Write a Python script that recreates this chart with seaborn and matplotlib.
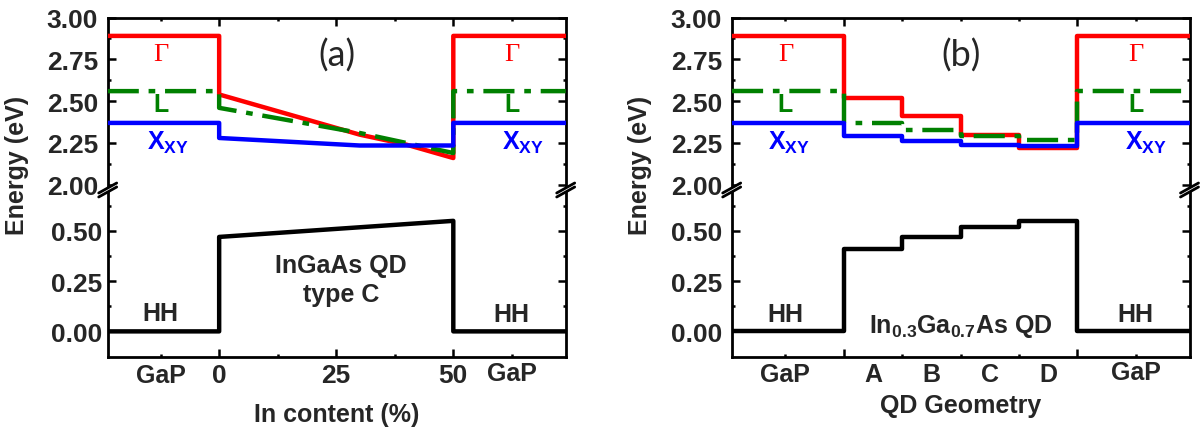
import numpy as np
import matplotlib
matplotlib.use('Agg')
import matplotlib.pyplot as plt
from matplotlib.lines import Line2D
from matplotlib.patches import Polygon
import seaborn as sns

# band edges of the GaP barrier (eV)
gap_gamma = 2.89
gap_L = 2.56
gap_X = 2.37
gap_HH = 0.0

# panel (a): InGaAs QD type C, energies vs In content
in_content = [0, 10, 20, 30, 40, 50]
gamma_a = [2.54, 2.46, 2.38, 2.30, 2.24, 2.16]
L_a = [2.46, 2.41, 2.36, 2.31, 2.25, 2.19]
X_a = [2.28, 2.265, 2.25, 2.235, 2.235, 2.235]
HH_a = [0.47, 0.486, 0.502, 0.518, 0.534, 0.55]

# panel (b): In0.3Ga0.7As QD, energies per geometry
geometries = ['A', 'B', 'C', 'D']
gamma_b = [2.52, 2.41, 2.30, 2.22]
L_b = [2.37, 2.33, 2.29, 2.27]
X_b = [2.29, 2.26, 2.24, 2.23]
HH_b = [0.41, 0.47, 0.52, 0.55]

sns.set_theme(style='ticks')
plt.rcParams['font.family'] = ['Liberation Sans', 'DejaVu Sans']
plt.rcParams['font.weight'] = 'bold'
plt.rcParams['font.size'] = 18
plt.rcParams['mathtext.fontset'] = 'custom'
plt.rcParams['mathtext.rm'] = 'Liberation Sans:bold'
plt.rcParams['mathtext.bf'] = 'Liberation Sans:bold'
plt.rcParams['mathtext.it'] = 'Liberation Sans:bold'

W, H = 1200, 431
fig = plt.figure(figsize=(12, 4.31), dpi=100)


def box(l, r, t, b):
    return [l / W, 1 - b / H, (r - l) / W, (b - t) / H]


def profile_a(vals, gap, xlim):
    x = [xlim[0], in_content[0]] + in_content + [in_content[-1], xlim[1]]
    y = [gap, gap] + list(vals) + [gap, gap]
    return x, y


def profile_b(vals, gap, xlim):
    x = [xlim[0]]
    y = [gap]
    for i, v in enumerate(vals):
        x += [i, i]
        y += [y[-1], v]
    x += [len(vals), len(vals), xlim[1]]
    y += [vals[-1], gap, gap]
    return x, y


def style_axes(up, lo, xmaj, xmin):
    for ax in (up, lo):
        for s in ax.spines.values():
            s.set_linewidth(2)
            s.set_color('black')
        ax.set_xticks(xmaj)
        ax.set_xticks(xmin, minor=True)
        ax.tick_params(which='both', direction='in', width=1.8, color='black',
                       left=True, right=True, labelsize=19, pad=7)
        ax.tick_params(which='major', length=5.5)
        ax.tick_params(which='minor', length=2.5)
        ax.set_xlabel('')
        ax.set_ylabel('')
    up.spines['bottom'].set_visible(False)
    lo.spines['top'].set_visible(False)
    up.tick_params(which='both', top=True, bottom=False, labelbottom=False)
    lo.tick_params(which='both', top=False, bottom=True, labelbottom=False)
    up.set_ylim(1.990, 3.0)
    up.set_yticks([2.00, 2.25, 2.50, 2.75, 3.00])
    up.set_yticklabels(['2.00', '2.25', '2.50', '2.75', '3.00'])
    up.set_yticks([2.125, 2.375, 2.625, 2.875], minor=True)
    lo.set_ylim(-0.129, 0.706)
    lo.set_yticks([0.0, 0.25, 0.5])
    lo.set_yticklabels(['0.00', '0.25', '0.50'])
    lo.set_yticks([0.125, 0.375, 0.625], minor=True)


def breaks(xpx):
    # double slash across the gap between the two halves of the axis
    y0 = 189
    poly = Polygon([[(xpx - 9) / W, 1 - (y0 + 5) / H], [(xpx + 9) / W, 1 - (y0 - 5) / H],
                    [(xpx + 9) / W, 1 - (y0 - 1) / H], [(xpx - 9) / W, 1 - (y0 + 9) / H]],
                   closed=True, transform=fig.transFigure, facecolor='white',
                   edgecolor='none', zorder=10)
    fig.add_artist(poly)
    for dy in (0, 4):
        fig.add_artist(Line2D([(xpx - 9) / W, (xpx + 9) / W],
                              [1 - (y0 + 5 + dy) / H, 1 - (y0 - 5 + dy) / H],
                              transform=fig.transFigure, color='black', lw=2, zorder=11))


dashdot = (0, (7, 2.2, 1.5, 2.2))
serif = ['Liberation Serif', 'DejaVu Serif']

# ---------------- panel (a) ----------------
xa = (-23.8, 74.0)
up_a = fig.add_axes(box(107.7, 565.7, 18.5, 187.5))
lo_a = fig.add_axes(box(107.7, 565.7, 190.5, 358.3))

x, y = profile_a(gamma_a, gap_gamma, xa)
sns.lineplot(x=x, y=y, sort=False, estimator=None, color='red', lw=3.2, ax=up_a, zorder=3)
x, y = profile_a(L_a, gap_L, xa)
sns.lineplot(x=x, y=y, sort=False, estimator=None, color='green', lw=3.2,
             linestyle=dashdot, ax=up_a, zorder=4)
x, y = profile_a(X_a, gap_X, xa)
sns.lineplot(x=x, y=y, sort=False, estimator=None, color='blue', lw=3.2, ax=up_a, zorder=5)
x, y = profile_a(HH_a, gap_HH, xa)
sns.lineplot(x=x, y=y, sort=False, estimator=None, color='black', lw=3.2, ax=lo_a)

for ax in (up_a, lo_a):
    ax.set_xlim(*xa)
style_axes(up_a, lo_a, [0, 25, 50], [-12.5, 12.5, 37.5, 62.5])
lo_a.tick_params(which='major', labelbottom=True, pad=4)
lo_a.set_xticklabels(['0', '25', '50'])

for xg, xx in ((-12.5, -10.9), (62.5, 64.8)):
    up_a.text(xg, 2.782, 'Γ', color='red', fontsize=19, fontweight='normal',
              family=serif, ha='center', va='center')
    up_a.text(xg, 2.483, 'L', color='green', fontsize=18, ha='center', va='center')
    up_a.text(xx, 2.259, r'$\mathbf{X_{XY}}$', color='blue', fontsize=18, ha='center', va='center')
up_a.text(25.1, 2.78, '(a)', fontsize=26, fontweight='normal', family=['Lato', 'DejaVu Sans'],
          ha='center', va='center')

lo_a.text(-12.5, 0.055, 'HH', fontsize=18, ha='center', va='baseline')
lo_a.text(62.5, 0.050, 'HH', fontsize=18, ha='center', va='baseline')
lo_a.text(26, 0.294, 'InGaAs QD', fontsize=18, ha='center', va='baseline')
lo_a.text(26, 0.150, 'type C', fontsize=18, ha='center', va='baseline')
tr = lo_a.get_xaxis_transform()
lo_a.text(-12.5, -(383 - 358.3) / 167.8, 'GaP', transform=tr, fontsize=18, ha='center', va='baseline')
lo_a.text(62.5, -(381 - 358.3) / 167.8, 'GaP', transform=tr, fontsize=18, ha='center', va='baseline')

# ---------------- panel (b) ----------------
xb = (-1.92, 5.92)
up_b = fig.add_axes(box(731.7, 1189.5, 18.5, 187.5))
lo_b = fig.add_axes(box(731.7, 1189.5, 190.5, 358.3))

x, y = profile_b(gamma_b, gap_gamma, xb)
sns.lineplot(x=x, y=y, sort=False, estimator=None, color='red', lw=3.2, ax=up_b, zorder=3)
x, y = profile_b(L_b, gap_L, xb)
sns.lineplot(x=x, y=y, sort=False, estimator=None, color='green', lw=3.2,
             linestyle=dashdot, ax=up_b, zorder=4)
x, y = profile_b(X_b, gap_X, xb)
sns.lineplot(x=x, y=y, sort=False, estimator=None, color='blue', lw=3.2, ax=up_b, zorder=5)
x, y = profile_b(HH_b, gap_HH, xb)
sns.lineplot(x=x, y=y, sort=False, estimator=None, color='black', lw=3.2, ax=lo_b)

for ax in (up_b, lo_b):
    ax.set_xlim(*xb)
style_axes(up_b, lo_b, [0, 4], [-1, 1, 2, 3, 5])

for xg, xx in ((-1.0, -0.94), (5.0, 5.17)):
    up_b.text(xg, 2.782, 'Γ', color='red', fontsize=19, fontweight='normal',
              family=serif, ha='center', va='center')
    up_b.text(xg, 2.483, 'L', color='green', fontsize=18, ha='center', va='center')
    up_b.text(xx, 2.259, r'$\mathbf{X_{XY}}$', color='blue', fontsize=18, ha='center', va='center')
up_b.text(2.0, 2.78, '(b)', fontsize=26, fontweight='normal', family=['Lato', 'DejaVu Sans'],
          ha='center', va='center')

lo_b.text(-1.0, 0.053, 'HH', fontsize=18, ha='center', va='baseline')
lo_b.text(5.0, 0.053, 'HH', fontsize=18, ha='center', va='baseline')
lo_b.text(2.0, -0.005, r'In$_{\mathbf{0.3}}$Ga$_{\mathbf{0.7}}$As QD', fontsize=18,
          ha='center', va='baseline')
tr = lo_b.get_xaxis_transform()
lo_b.text(-1.0, -(382 - 358.3) / 167.8, 'GaP', transform=tr, fontsize=18, ha='center', va='baseline')
for i, g in enumerate(geometries):
    lo_b.text(i + 0.5, -(382 - 358.3) / 167.8, g, transform=tr, fontsize=18,
              ha='center', va='baseline')
lo_b.text(5.0, -(380 - 358.3) / 167.8, 'GaP', transform=tr, fontsize=18, ha='center', va='baseline')

# axis titles
fig.text(17.5 / W, 1 - 165 / H, 'Energy (eV)', rotation=90, ha='center', va='center', fontsize=18)
fig.text(640 / W, 1 - 165 / H, 'Energy (eV)', rotation=90, ha='center', va='center', fontsize=18)
fig.text(337 / W, 1 - 421.7 / H, 'In content (%)', ha='center', va='baseline', fontsize=18)
fig.text(960.5 / W, 1 - 413 / H, 'QD Geometry', ha='center', va='baseline', fontsize=18)

for xpx in (107.7, 565.7, 731.7, 1189.5):
    breaks(xpx)

fig.savefig('out.png', dpi=100, facecolor='white')
